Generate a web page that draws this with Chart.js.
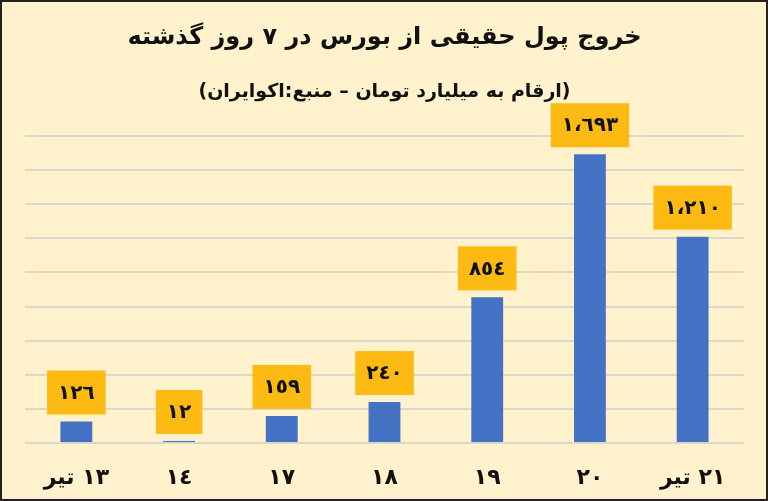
<!DOCTYPE html>
<html>
<head>
<meta charset="utf-8">
<script src="https://cdn.jsdelivr.net/npm/chart.js@4/dist/chart.umd.min.js"></script>
<style>
  html, body { margin: 0; padding: 0; background: #fff2cc; }
  #wrap { position: relative; width: 768px; height: 501px; }
  #frame { position: absolute; inset: 0; border: 2px solid #222; pointer-events: none; }
</style>
</head>
<body>
<div id="wrap">
  <canvas id="chart" width="768" height="501"></canvas>
  <div id="frame"></div>
</div>
<script>
// داده‌ها
const days = ['١٣ تیر', '١٤', '١٧', '١٨', '١٩', '٢٠', '٢١ تیر'];
const outflow = [126, 12, 159, 240, 854, 1693, 1210];
const outflowLabels = ['١٢٦', '١٢', '١٥٩', '٢٤٠', '٨٥٤', '١،٦٩٣', '١،٢١٠'];

const FONT = "'DejaVu Sans', sans-serif";

// برچسب مقدار داخل کادر زرد بالای هر ستون
const boxLabels = {
    id: 'boxLabels',
    afterDatasetsDraw(chart) {
        const ctx = chart.ctx;
        const meta = chart.getDatasetMeta(0);
        ctx.save();
        ctx.font = 'bold 20px ' + FONT;
        ctx.textAlign = 'center';
        ctx.textBaseline = 'middle';
        meta.data.forEach((bar, i) => {
            const text = outflowLabels[i];
            const w = ctx.measureText(text).width + 22;
            const h = 44;
            const bottom = bar.y - 7;
            ctx.fillStyle = '#fcba12';
            ctx.fillRect(bar.x - w / 2, bottom - h, w, h);
            ctx.fillStyle = '#111';
            ctx.fillText(text, bar.x, bottom - h / 2 + 1);
        });
        ctx.restore();
    }
};

new Chart(document.getElementById('chart').getContext('2d'), {
    type: 'bar',
    data: {
        labels: days,
        datasets: [{
            data: outflow,
            backgroundColor: '#4472c4',
            barPercentage: 0.31,
            categoryPercentage: 1
        }]
    },
    options: {
        responsive: false,
        animation: false,
        layout: { padding: { left: 25, right: 24, top: 22, bottom: 10 } },
        plugins: {
            legend: { display: false },
            tooltip: { enabled: false },
            title: {
                display: true,
                text: 'خروج پول حقیقی از بورس در ۷ روز گذشته',
                color: '#111',
                font: { family: FONT, size: 24, weight: 'bold', lineHeight: 1.3 },
                padding: { top: 0, bottom: 27 }
            },
            subtitle: {
                display: true,
                text: '(ارقام به میلیارد تومان – منبع:اکوایران)',
                color: '#111',
                font: { family: FONT, size: 19, weight: 'bold', lineHeight: 1.2 },
                padding: { top: 0, bottom: 33 }
            }
        },
        scales: {
            x: {
                grid: { display: false, drawTicks: false },
                border: { display: false },
                ticks: {
                    color: '#111',
                    padding: 22,
                    maxRotation: 0,
                    font: { family: FONT, size: 22, weight: 'bold' }
                },
                afterFit(scale) { scale.height = 48; }
            },
            y: {
                min: 0,
                max: 1800,
                grid: { color: '#dbd7cd', lineWidth: 2, drawTicks: false },
                border: { display: false },
                ticks: { display: false, stepSize: 200 }
            }
        }
    },
    plugins: [boxLabels]
});
</script>
</body>
</html>
